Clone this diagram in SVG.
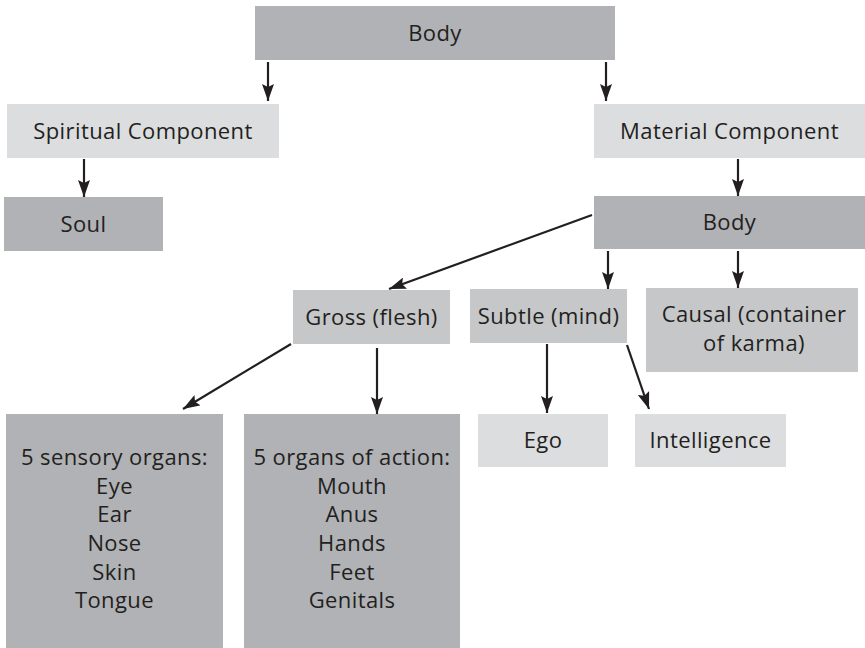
<svg xmlns="http://www.w3.org/2000/svg" width="865" height="648" viewBox="0 0 865 648">
<defs>
<style>
.dark{fill:#b1b2b5}
.mid{fill:#c6c7c9}
.light{fill:#dcdddf}
text{font-family:"Open Sans","Liberation Sans",sans-serif;font-size:22px;letter-spacing:0.4px;fill:#231f20;text-anchor:middle}
.c line{stroke:#231f20;stroke-width:2.2;marker-end:url(#ah)}
</style>
<marker id="ah" markerUnits="userSpaceOnUse" markerWidth="17" markerHeight="12" refX="17" refY="6" orient="auto">
<path d="M0,0 L17,6 L0,12 L3,6 z" fill="#231f20"/>
</marker>
</defs>
<rect width="865" height="648" fill="#fff"/>
<g id="body-top"><rect class="dark" x="255" y="6" width="360" height="54"/><text x="435" y="41">Body</text></g>
<g id="spiritual"><rect class="light" x="7" y="104" width="272" height="54"/><text x="143" y="139">Spiritual Component</text></g>
<g id="soul"><rect class="dark" x="4" y="197" width="159" height="54"/><text x="83.5" y="232">Soul</text></g>
<g id="material"><rect class="light" x="594" y="104" width="271" height="54"/><text x="729.5" y="139">Material Component</text></g>
<g id="body2"><rect class="dark" x="594" y="196" width="271" height="53"/><text x="729.5" y="230">Body</text></g>
<g id="gross"><rect class="mid" x="293" y="290" width="157" height="54"/><text x="371.5" y="325">Gross (flesh)</text></g>
<g id="subtle"><rect class="mid" x="470" y="289" width="157" height="54"/><text x="548.5" y="324">Subtle (mind)</text></g>
<g id="causal"><rect class="mid" x="646" y="288" width="212" height="84"/><text x="754" y="322">Causal (container</text><text x="754" y="351">of karma)</text></g>
<g id="sensory"><rect class="dark" x="6" y="414" width="217" height="234"/>
<text x="114.5" y="465">5 sensory organs:</text><text x="114.5" y="494">Eye</text><text x="114.5" y="522">Ear</text><text x="114.5" y="551">Nose</text><text x="114.5" y="580">Skin</text><text x="114.5" y="608">Tongue</text></g>
<g id="action"><rect class="dark" x="244" y="414" width="216" height="234"/>
<text x="352" y="465">5 organs of action:</text><text x="352" y="494">Mouth</text><text x="352" y="522">Anus</text><text x="352" y="551">Hands</text><text x="352" y="580">Feet</text><text x="352" y="608">Genitals</text></g>
<g id="ego"><rect class="light" x="478" y="414" width="130" height="53"/><text x="543" y="448">Ego</text></g>
<g id="intelligence"><rect class="light" x="635" y="414" width="151" height="53"/><text x="710.5" y="448">Intelligence</text></g>
<g id="connectors" class="c">
<line x1="268" y1="62" x2="268" y2="101"/>
<line x1="606" y1="62" x2="606" y2="101"/>
<line x1="84" y1="159" x2="84" y2="197"/>
<line x1="738" y1="159" x2="738" y2="196"/>
<line x1="592" y1="215" x2="389" y2="289"/>
<line x1="608" y1="251" x2="608" y2="289"/>
<line x1="738" y1="251" x2="738" y2="288"/>
<line x1="291" y1="344" x2="183" y2="409"/>
<line x1="377" y1="348" x2="377" y2="414"/>
<line x1="547" y1="344" x2="547" y2="413"/>
<line x1="627" y1="345" x2="649" y2="409"/>
</g>
</svg>
